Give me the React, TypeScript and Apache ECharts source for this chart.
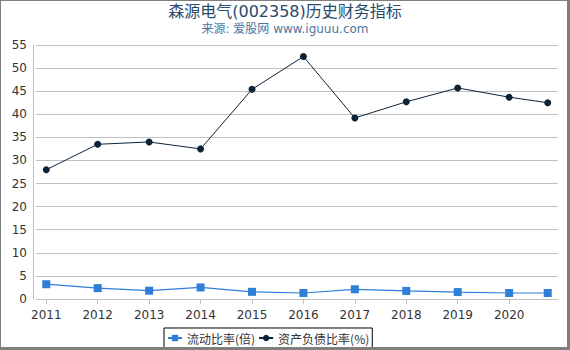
import React, { useEffect, useRef } from "react";
import * as echarts from "echarts";

const years = [2011, 2012, 2013, 2014, 2015, 2016, 2017, 2018, 2019, 2020, 2020.75];
const tickYears = [2011, 2012, 2013, 2014, 2015, 2016, 2017, 2018, 2019, 2020];
const currentRatio = [3.2, 2.35, 1.8, 2.5, 1.55, 1.3, 2.1, 1.75, 1.5, 1.3, 1.3];
const debtRatio = [28.0, 33.5, 34.0, 32.5, 45.4, 52.5, 39.2, 42.7, 45.7, 43.7, 42.5];
const seriesNames = ["流动比率(倍)", "资产负债比率(%)"];
const titleText = "森源电气(002358)历史财务指标";
const subText = "来源: 爱股网 www.iguuu.com";

const FONT = "'DejaVu Sans', 'Noto Sans CJK SC', sans-serif";
const LEGEND_FONT = "'Noto Sans CJK SC', 'DejaVu Sans', sans-serif";

export default function App() {
  const ref = useRef<HTMLDivElement>(null);
  useEffect(() => {
    if (!ref.current) return;
    const chart = echarts.init(ref.current, null, { renderer: "svg" });
    chart.setOption({
      animation: false,
      textStyle: { fontFamily: FONT },
      title: {
        text: titleText,
        subtext: subText,
        left: "center",
        top: 0,
        padding: [3, 0, 0, 0],
        itemGap: 4,
        textStyle: { fontSize: 16, fontWeight: "normal", color: "#274b6d", fontFamily: FONT },
        subtextStyle: { fontSize: 12, color: "#4d759e", fontFamily: FONT },
      },
      grid: { left: 36, right: 12, top: 45, bottom: 51, containLabel: false },
      legend: {
        bottom: 2,
        left: 164,
        data: seriesNames,
        itemWidth: 14,
        itemHeight: 8,
        itemGap: 3,
        padding: [4, 3],
        borderColor: "#000",
        borderWidth: 1,
        borderRadius: 0,
        textStyle: { fontSize: 12, color: "#333", fontFamily: LEGEND_FONT },
      },
      xAxis: {
        type: "value",
        min: 2010.8,
        max: 2020.95,
        offset: 4,
        splitLine: { show: false },
        axisLine: { show: true, lineStyle: { color: "#c0c0c0" } },
        axisTick: { show: true, length: 5, lineStyle: { color: "#c0c0c0" }, customValues: tickYears },
        axisLabel: {
          color: "#333",
          fontSize: 12,
          margin: 6,
          customValues: tickYears,
          formatter: (v: number) => String(v),
        },
      },
      yAxis: {
        type: "value",
        min: 0,
        max: 55,
        interval: 5,
        offset: 3,
        axisLine: { show: true, lineStyle: { color: "#c0c0c0" } },
        axisTick: { show: false },
        splitLine: { show: true, lineStyle: { color: "#c0c0c0", width: 1 } },
        axisLabel: { color: "#333", fontSize: 12, margin: 6 },
      },
      series: [
        {
          name: seriesNames[0],
          type: "line",
          data: years.map((y, i) => [y, currentRatio[i]]),
          symbol: "rect",
          symbolSize: 8,
          itemStyle: { color: "#2f7ed8" },
          lineStyle: { color: "#2f7ed8", width: 1.2 },
        },
        {
          name: seriesNames[1],
          type: "line",
          data: years.map((y, i) => [y, debtRatio[i]]),
          symbol: "circle",
          symbolSize: 7,
          itemStyle: { color: "#0d233a" },
          lineStyle: { color: "#0d233a", width: 1 },
        },
      ],
    });
    return () => chart.dispose();
  }, []);
  return (
    <div style={{ position: "fixed", left: 0, top: 0, width: 570, height: 350, background: "#fff" }}>
      <div ref={ref} style={{ position: "absolute", left: 0, top: 0, width: 570, height: 350 }} />
      <div
        style={{
          position: "absolute",
          left: 0,
          top: 0,
          width: 570,
          height: 350,
          boxSizing: "border-box",
          borderLeft: "1px solid #7f7f7f",
          borderTop: "1px solid #7f7f7f",
          borderRight: "3px solid #7f7f7f",
          borderBottom: "3px solid #7f7f7f",
          pointerEvents: "none",
        }}
      />
    </div>
  );
}
